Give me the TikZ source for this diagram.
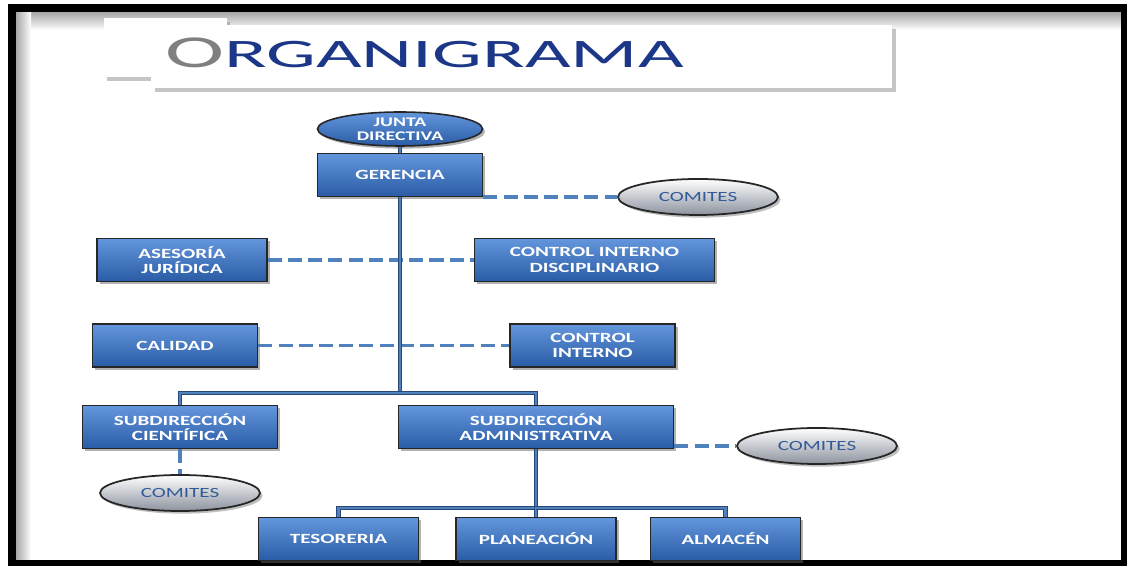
\documentclass[tikz,border=0pt]{standalone}
\usepackage{fontspec}
\setmainfont{Carlito}
\newfontfamily\boxfont[FakeStretch=1.5]{Carlito}
\newfontfamily\titlefont[FakeStretch=1.95]{Carlito}
\definecolor{orgnavy}{RGB}{28,55,135}
\definecolor{orggray}{RGB}{128,128,128}
\definecolor{orgtop}{RGB}{100,150,222}
\definecolor{orgbot}{RGB}{42,92,165}
\definecolor{orgline}{RGB}{79,129,189}
\definecolor{orgdark}{RGB}{40,70,120}
\definecolor{orgsilver}{RGB}{140,146,158}
\definecolor{orgtext}{RGB}{50,90,150}
\usetikzlibrary{shadows,positioning,calc,shapes.geometric}

\tikzset{
  orgbox/.style={rectangle, draw=black!85, line width=0.9pt, top color=orgtop, bottom color=orgbot,
    text=white, font=\boxfont\fontsize{8}{8.8}\selectfont\bfseries, align=center,
    minimum height=0.86cm, inner sep=1pt,
    drop shadow={shadow xshift=1.5pt, shadow yshift=-1.5pt, fill=black!60}},
  orgoval/.style={ellipse, draw=black!85, line width=0.9pt, top color=orgtop, bottom color=orgbot,
    text=white, font=\boxfont\fontsize{7.5}{7.8}\selectfont\bfseries, align=center, inner sep=0pt,
    drop shadow={shadow xshift=1.5pt, shadow yshift=-1.5pt, fill=black!60}},
  comite/.style={ellipse, draw=black!85, line width=1pt, top color=white, bottom color=orgsilver,
    text=orgtext, font=\boxfont\fontsize{8}{9}\selectfont, minimum width=3.2cm, minimum height=0.72cm,
    inner sep=0pt, drop shadow={shadow xshift=1.5pt, shadow yshift=-1.5pt, fill=black!50}},
  mainlink/.style={draw=orgdark, line width=0.6pt, double=orgline, double distance=1.5pt},
  dashlink/.style={orgline, line width=1.9pt, dash pattern=on 8pt off 3.5pt},
}

\begin{document}
\begin{tikzpicture}
  \useasboundingbox (0,0) rectangle (22.54,11.32);

  % Frame
  \fill[white] (0,0) rectangle (22.54,11.32);
  \shade[top color=black!35, bottom color=white] (0.32,10.72) rectangle (22.44,11.08);
  \shade[left color=black!35, right color=white] (0.32,0.08) rectangle (0.62,11.08);
  \draw[black, line width=0.15cm] (0.24,0.04) rectangle (22.49,11.16);

  % Title
  \path[fill=white, drop shadow={shadow xshift=1.5pt, shadow yshift=-2pt, fill=black!45}] (2.08,9.78) rectangle (4.54,10.96);
  \path[fill=white, drop shadow={shadow xshift=2pt, shadow yshift=-2.5pt, fill=black!45}] (3.02,9.56) rectangle (17.84,10.82);
  \node[anchor=base west, inner sep=0pt] (title) at (3.3,9.96) {\titlefont{\color{orggray}\fontsize{26}{26}\selectfont O}{\color{orgnavy}\fontsize{23}{23}\selectfont RGANIGRAMA}};

  % Boxes
  \node[orgoval, minimum width=3.3cm, minimum height=0.68cm] (junta) at (8.0,8.74) {JUNTA\\DIRECTIVA};
  \node[orgbox, minimum width=3.3cm] (gerencia) at (8.0,7.82) {GERENCIA};
  \node[comite] (comites1) at (13.96,7.38) {COMITES};
  \node[orgbox, minimum width=3.4cm] (asesoria) at (3.64,6.12) {ASESORÍA\\JURÍDICA};
  \node[orgbox, minimum width=4.8cm] (cid) at (11.89,6.12) {CONTROL INTERNO\\DISCIPLINARIO};
  \node[orgbox, minimum width=3.3cm] (calidad) at (3.5,4.41) {CALIDAD};
  \node[orgbox, minimum width=3.3cm] (ctrlint) at (11.85,4.41) {CONTROL\\INTERNO};
  \node[orgbox, minimum width=3.9cm] (subcien) at (3.6,2.78) {SUBDIRECCIÓN\\CIENTÍFICA};
  \node[orgbox, minimum width=5.5cm] (subadmin) at (10.72,2.78) {SUBDIRECCIÓN\\ADMINISTRATIVA};
  \node[comite] (comites2) at (16.34,2.4) {COMITES};
  \node[comite] (comites3) at (3.6,1.46) {COMITES};
  \node[orgbox, minimum width=3.2cm] (tesoreria) at (6.77,0.54) {TESORERIA};
  \node[orgbox, minimum width=3.2cm] (planeacion) at (10.72,0.54) {PLANEACIÓN};
  \node[orgbox, minimum width=3.0cm] (almacen) at (14.51,0.54) {ALMACÉN};

  % Dashed links
  \draw[dashlink] (asesoria.east) -- (cid.west);
  \draw[dashlink] (calidad.east) -- (ctrlint.west);
  \draw[dashlink] (gerencia.east |- comites1.west) -- (comites1.west);
  \draw[dashlink] (subadmin.east |- comites2.west) -- (comites2.west);
  \draw[dashlink] (subcien.south -| comites3.north) -- (comites3.north);

  % Main links
  \coordinate (bus1) at (8.0,3.46);
  \coordinate (bus2) at (10.72,1.16);
  \draw[mainlink] (junta.south) -- (gerencia.north);
  \draw[mainlink] (gerencia.south) -- (bus1);
  \draw[mainlink] (bus1) -| (subcien.north);
  \draw[mainlink] (bus1) -| (subadmin.north);
  \draw[mainlink] (subadmin.south) -- (bus2);
  \draw[mainlink] (bus2) -| (tesoreria.north);
  \draw[mainlink] (bus2) -- (planeacion.north);
  \draw[mainlink] (bus2) -| (almacen.north);
\end{tikzpicture}
\end{document}
